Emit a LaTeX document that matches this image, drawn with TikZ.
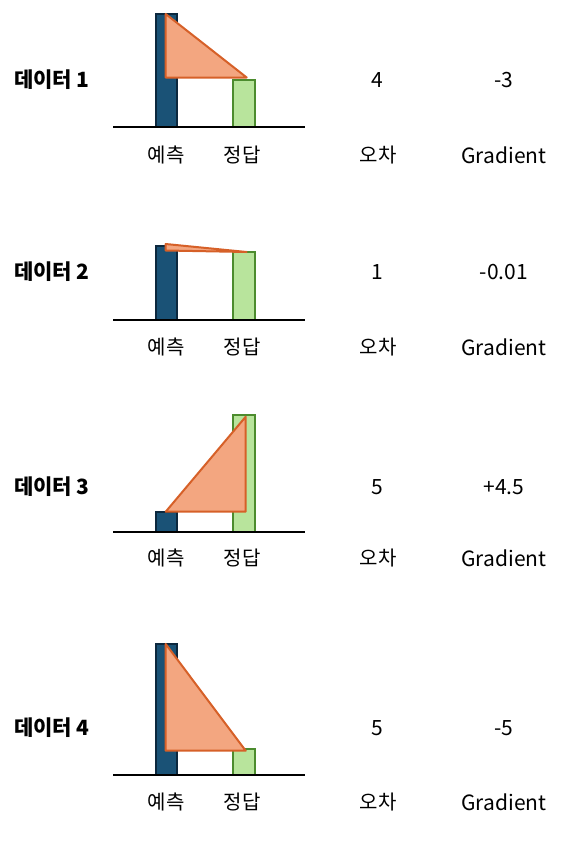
\documentclass[tikz,border=0pt]{standalone}
\usepackage{fontspec}
\setmainfont{Noto Sans CJK KR}
\begin{document}
\begin{tikzpicture}[x=1pt,y=-1pt,
  predbar/.style={draw={rgb,255:red,12;green,40;blue,62}, fill={rgb,255:red,26;green,82;blue,118}, line width=2pt},
  truebar/.style={draw={rgb,255:red,76;green,140;blue,46}, fill={rgb,255:red,184;green,228;blue,156}, line width=2pt},
  tri/.style={draw={rgb,255:red,214;green,96;blue,40}, fill={rgb,255:red,243;green,166;blue,128}, line width=2pt, line join=round},
  axisline/.style={line width=2.4pt},
  rowlabel/.style={font=\fontsize{21}{24}\selectfont\bfseries, anchor=west, inner sep=0pt},
  axlabel/.style={font=\fontsize{20}{24}\selectfont, inner sep=0pt},
  val/.style={font=\fontsize{21}{24}\selectfont, inner sep=0pt}]
\useasboundingbox (0,0) rectangle (569,841);
% ---- panel 1
\draw[predbar] (155.5,14) rectangle (177,127);
\draw[truebar] (232.5,80) rectangle (255,127);
\draw[axisline] (113,127) -- (305,127);
\draw[tri] (165.7,14) -- (165.7,77.5) -- (246.7,77.5) -- cycle;
\node[rowlabel] (r1) at (14,80) {데이터 1};
\node[axlabel] (p1) at (166,155) {예측};
\node[axlabel] (t1) at (242,155) {정답};
\node[val] (e1) at (377,80) {4};
\node[val] (g1) at (504,80) {-3};
\node[axlabel] (el1) at (378,155) {오차};
\node[val] (gl1) at (504,155) {Gradient};
% ---- panel 2
\draw[predbar] (155.5,246) rectangle (177,320);
\draw[truebar] (232.5,252) rectangle (255,320);
\draw[axisline] (113,320) -- (305,320);
\draw[tri] (165.7,244) -- (165.7,250.5) -- (246.7,252) -- cycle;
\node[rowlabel] (r2) at (14,272) {데이터 2};
\node[axlabel] (p2) at (166,347) {예측};
\node[axlabel] (t2) at (242,347) {정답};
\node[val] (e2) at (377,272) {1};
\node[val] (g2) at (504,272) {-0.01};
\node[axlabel] (el2) at (378,347) {오차};
\node[val] (gl2) at (504,347) {Gradient};
% ---- panel 3
\draw[predbar] (155.5,512.3) rectangle (177,531.7);
\draw[truebar] (232.5,415) rectangle (255,531.7);
\draw[axisline] (113,531.7) -- (305,531.7);
\draw[tri] (165.7,511.7) -- (245.7,416.7) -- (245.7,511.7) -- cycle;
\node[rowlabel] (r3) at (14,487) {데이터 3};
\node[axlabel] (p3) at (166,558) {예측};
\node[axlabel] (t3) at (242,558) {정답};
\node[val] (e3) at (377,487) {5};
\node[val] (g3) at (504,487) {+4.5};
\node[axlabel] (el3) at (378,558) {오차};
\node[val] (gl3) at (504,558) {Gradient};
% ---- panel 4
\draw[predbar] (155.5,644) rectangle (177,775);
\draw[truebar] (232.5,749) rectangle (255,775);
\draw[axisline] (113,775) -- (305,775);
\draw[tri] (165.7,644) -- (165.7,750.7) -- (245.7,750.7) -- cycle;
\node[rowlabel] (r4) at (14,728) {데이터 4};
\node[axlabel] (p4) at (166,802) {예측};
\node[axlabel] (t4) at (242,802) {정답};
\node[val] (e4) at (377,728) {5};
\node[val] (g4) at (504,728) {-5};
\node[axlabel] (el4) at (378,802) {오차};
\node[val] (gl4) at (504,802) {Gradient};
\end{tikzpicture}
\end{document}
